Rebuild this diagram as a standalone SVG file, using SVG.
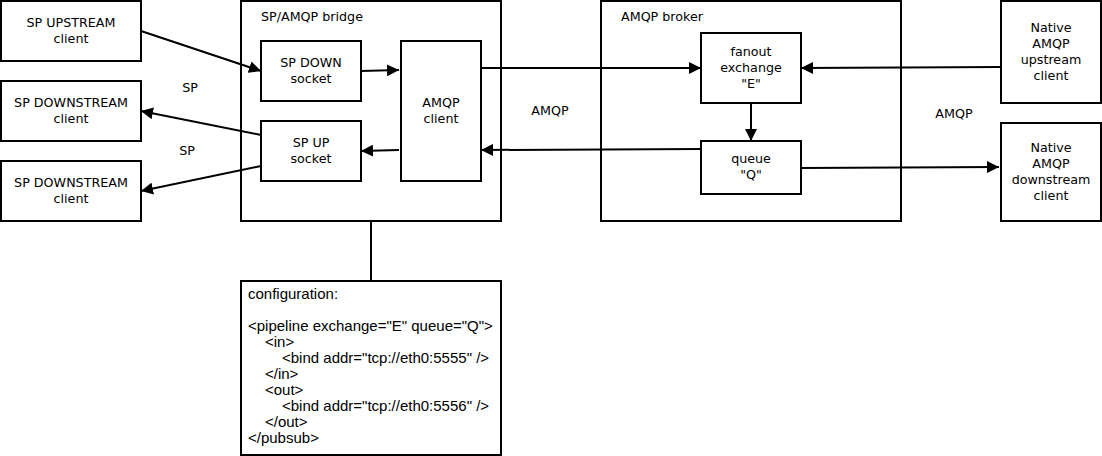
<svg xmlns="http://www.w3.org/2000/svg" width="1102" height="456" viewBox="0 0 1102 456">
<style>
.box{fill:#fff;stroke:#000;stroke-width:2}
.t{font-family:"DejaVu Sans",sans-serif;font-size:12.7px;fill:#000;text-anchor:middle}
.tl{font-family:"DejaVu Sans",sans-serif;font-size:12.7px;fill:#000}
.c{font-family:"Liberation Sans",Arial,sans-serif;font-size:15px;fill:#000}
.ln{fill:none;stroke:#000;stroke-width:2}
.ar{marker-end:url(#ah)}
</style>
<defs>
<marker id="ah" markerUnits="userSpaceOnUse" markerWidth="12" markerHeight="12" refX="12" refY="6" orient="auto" viewBox="0 0 12 12">
<path d="M0,0 L12,6 L0,12 z" fill="#000"/>
</marker>
</defs>
<rect width="1102" height="456" fill="#fff"/>
<g id="bridge"><rect class="box" x="241" y="1" width="260" height="220"/><text class="tl" x="261" y="21">SP/AMQP bridge</text></g>
<g id="broker"><rect class="box" x="601" y="1" width="300" height="220"/><text class="tl" x="621" y="21">AMQP broker</text></g>
<g id="sp-upstream"><rect class="box" x="1" y="1" width="140" height="60"/><text class="t" x="71" y="27">SP UPSTREAM</text><text class="t" x="71" y="43">client</text></g>
<g id="sp-downstream-1"><rect class="box" x="1" y="81" width="140" height="60"/><text class="t" x="71" y="107">SP DOWNSTREAM</text><text class="t" x="71" y="123">client</text></g>
<g id="sp-downstream-2"><rect class="box" x="1" y="161" width="140" height="60"/><text class="t" x="71" y="187">SP DOWNSTREAM</text><text class="t" x="71" y="203">client</text></g>
<g id="sp-down-socket"><rect class="box" x="261" y="41" width="100" height="60"/><text class="t" x="311" y="67">SP DOWN</text><text class="t" x="311" y="83">socket</text></g>
<g id="sp-up-socket"><rect class="box" x="261" y="121" width="100" height="60"/><text class="t" x="311" y="147">SP UP</text><text class="t" x="311" y="163">socket</text></g>
<g id="amqp-client"><rect class="box" x="401" y="41" width="80" height="140"/><text class="t" x="441" y="107">AMQP</text><text class="t" x="441" y="123">client</text></g>
<g id="fanout"><rect class="box" x="701" y="33" width="100" height="70"/><text class="t" x="751" y="56">fanout</text><text class="t" x="751" y="72">exchange</text><text class="t" x="751" y="88">"E"</text></g>
<g id="queue"><rect class="box" x="701" y="141" width="100" height="53"/><text class="t" x="751" y="163">queue</text><text class="t" x="751" y="179">"Q"</text></g>
<g id="native-upstream"><rect class="box" x="1001" y="1" width="100" height="102"/><text class="t" x="1051" y="32">Native</text><text class="t" x="1051" y="48">AMQP</text><text class="t" x="1051" y="64">upstream</text><text class="t" x="1051" y="80">client</text></g>
<g id="native-downstream"><rect class="box" x="1001" y="123" width="100" height="98"/><text class="t" x="1051" y="152">Native</text><text class="t" x="1051" y="168">AMQP</text><text class="t" x="1051" y="184">downstream</text><text class="t" x="1051" y="200">client</text></g>
<g id="configuration"><rect class="box" x="241" y="281" width="260" height="174"/>
<text class="c" x="248" y="299">configuration:</text>
<text class="c" x="248" y="331">&lt;pipeline exchange="E" queue="Q"&gt;</text>
<text class="c" x="265" y="347">&lt;in&gt;</text>
<text class="c" x="282" y="363">&lt;bind addr="tcp://eth0:5555" /&gt;</text>
<text class="c" x="265" y="379">&lt;/in&gt;</text>
<text class="c" x="265" y="395">&lt;out&gt;</text>
<text class="c" x="282" y="411">&lt;bind addr="tcp://eth0:5556" /&gt;</text>
<text class="c" x="265" y="427">&lt;/out&gt;</text>
<text class="c" x="248" y="443">&lt;/pubsub&gt;</text>
</g>
<g id="connectors">
<line class="ln ar" x1="141" y1="31" x2="261" y2="71"/>
<line class="ln ar" x1="361" y1="71" x2="399" y2="70"/>
<line class="ln ar" x1="261" y1="135" x2="141" y2="111"/>
<line class="ln ar" x1="261" y1="166" x2="141" y2="191"/>
<line class="ln ar" x1="399" y1="150" x2="361" y2="151"/>
<line class="ln ar" x1="481" y1="68" x2="701" y2="68"/>
<line class="ln ar" x1="701" y1="149" x2="481" y2="150"/>
<line class="ln ar" x1="1001" y1="67" x2="801" y2="68"/>
<line class="ln ar" x1="751" y1="103" x2="751" y2="141"/>
<line class="ln ar" x1="801" y1="168" x2="999" y2="167"/>
<line class="ln" x1="371" y1="221" x2="371" y2="281"/>
<text class="t" x="190" y="92">SP</text>
<text class="t" x="187" y="155">SP</text>
<text class="t" x="550" y="115">AMQP</text>
<text class="t" x="954" y="118">AMQP</text>
</g>
</svg>
